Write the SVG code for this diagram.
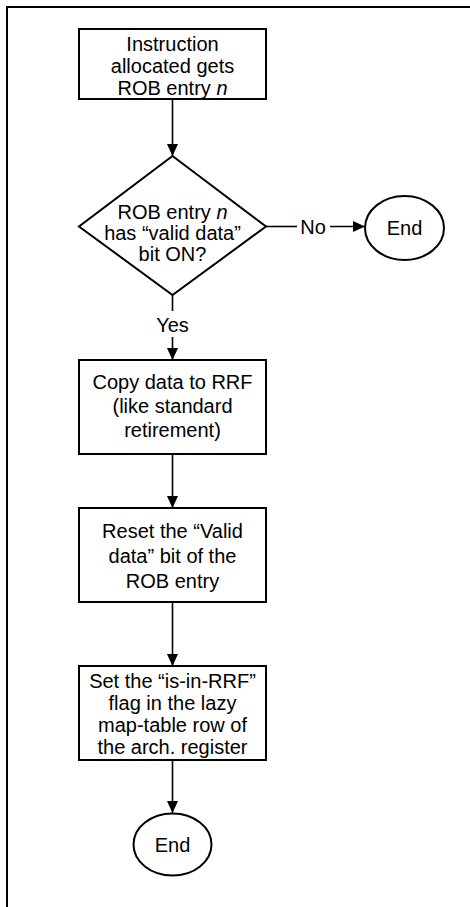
<svg xmlns="http://www.w3.org/2000/svg" width="470" height="907" viewBox="0 0 470 907">
  <defs>
    <marker id="arrow" markerUnits="userSpaceOnUse" markerWidth="12" markerHeight="14" refX="13" refY="6" orient="auto" viewBox="0 0 13 12">
      <path d="M0,0 L13,6 L0,12 Z" fill="#000"/>
    </marker>
    <style>
      .shape { fill: #fff; stroke: #000; stroke-width: 2; }
      .edge { fill: none; stroke: #000; stroke-width: 1.6; }
      .arrowed { marker-end: url(#arrow); }
      text { font-family: "Liberation Sans", Arial, sans-serif; font-size: 20px; fill: #000; text-anchor: middle; }
    </style>
  </defs>

  <rect width="470" height="907" fill="#fff"/>

  <!-- page frame (top and left edges) -->
  <path d="M7,907 L7,7 L470,7" fill="none" stroke="#000" stroke-width="2"/>

  <g id="connectors">
    <line class="edge arrowed" x1="172.5" y1="99" x2="172.5" y2="156"/>
    <line class="edge" x1="266" y1="226.5" x2="297" y2="226.5"/>
    <line class="edge arrowed" x1="330" y1="226.5" x2="365" y2="226.5"/>
    <text x="313" y="234">No</text>
    <line class="edge" x1="172.5" y1="295" x2="172.5" y2="311"/>
    <text x="172.5" y="332">Yes</text>
    <line class="edge arrowed" x1="172.5" y1="337" x2="172.5" y2="360"/>
    <line class="edge arrowed" x1="172.5" y1="454" x2="172.5" y2="508"/>
    <line class="edge arrowed" x1="172.5" y1="602" x2="172.5" y2="666"/>
    <line class="edge arrowed" x1="172.5" y1="760" x2="172.5" y2="813"/>
  </g>

  <g id="allocate">
    <rect class="shape" x="79" y="29" width="187" height="70"/>
    <text x="172.5" y="51">Instruction</text>
    <text x="172.5" y="73">allocated gets</text>
    <text x="172.5" y="95">ROB entry <tspan font-style="italic">n</tspan></text>
  </g>

  <g id="valid-check">
    <polygon class="shape" points="172.5,156 266,226.5 172.5,295 79,226.5"/>
    <text x="172.5" y="219">ROB entry <tspan font-style="italic">n</tspan></text>
    <text x="172.5" y="240">has “valid data”</text>
    <text x="172.5" y="261">bit ON?</text>
  </g>

  <g id="end-no">
    <ellipse class="shape" cx="404.5" cy="228" rx="39.5" ry="32"/>
    <text x="404.5" y="235">End</text>
  </g>

  <g id="copy-data">
    <rect class="shape" x="79" y="360" width="187" height="94"/>
    <text x="172.5" y="389">Copy data to RRF</text>
    <text x="172.5" y="413">(like standard</text>
    <text x="172.5" y="437">retirement)</text>
  </g>

  <g id="reset-valid">
    <rect class="shape" x="79" y="508" width="187" height="94"/>
    <text x="172.5" y="538">Reset the “Valid</text>
    <text x="172.5" y="563">data” bit of the</text>
    <text x="172.5" y="588">ROB entry</text>
  </g>

  <g id="set-flag">
    <rect class="shape" x="79" y="666" width="187" height="94"/>
    <text x="172.5" y="688">Set the “is-in-RRF”</text>
    <text x="172.5" y="710">flag in the lazy</text>
    <text x="172.5" y="732">map-table row of</text>
    <text x="172.5" y="754">the arch. register</text>
  </g>

  <g id="end-yes">
    <ellipse class="shape" cx="172.5" cy="844.5" rx="39" ry="31"/>
    <text x="172.5" y="852">End</text>
  </g>
</svg>
